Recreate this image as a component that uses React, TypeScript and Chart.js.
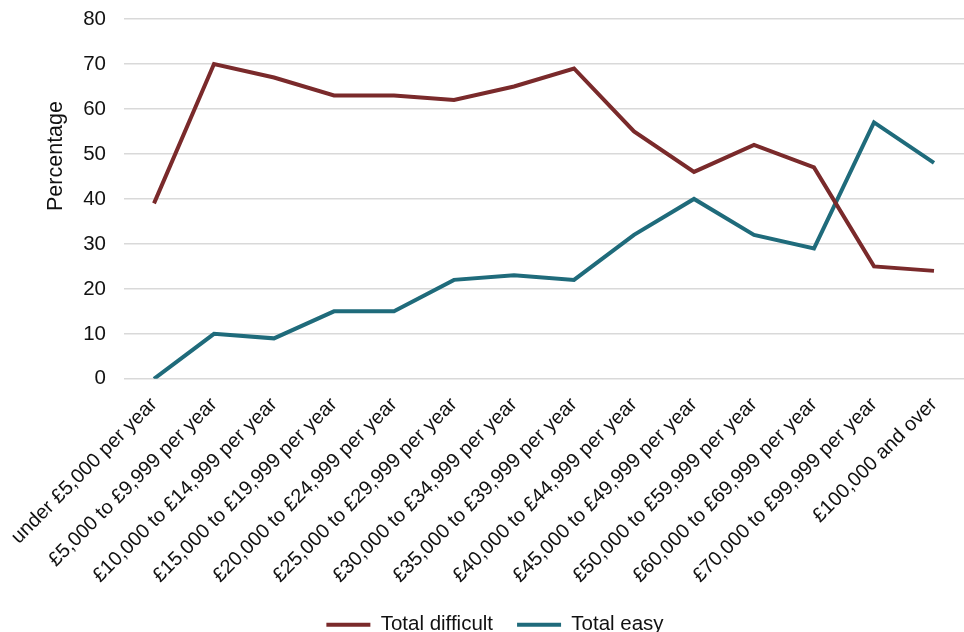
import React, { useEffect, useRef } from "react";
import { Chart, registerables } from "chart.js";

Chart.register(...registerables);

const incomeBands: string[] = [
  "under £5,000 per year",
  "£5,000 to £9,999 per year",
  "£10,000 to £14,999 per year",
  "£15,000 to £19,999 per year",
  "£20,000 to £24,999 per year",
  "£25,000 to £29,999 per year",
  "£30,000 to £34,999 per year",
  "£35,000 to £39,999 per year",
  "£40,000 to £44,999 per year",
  "£45,000 to £49,999 per year",
  "£50,000 to £59,999 per year",
  "£60,000 to £69,999 per year",
  "£70,000 to £99,999 per year",
  "£100,000 and over",
];

const totalDifficult: number[] = [39, 70, 67, 63, 63, 62, 65, 69, 55, 46, 52, 47, 25, 24];
const totalEasy: number[] = [0, 10, 9, 15, 15, 22, 23, 22, 32, 40, 32, 29, 57, 48];

const FONT = "'Liberation Sans', Arial, sans-serif";
const TEXT = "#111111";
const RED = "#7a2a2b";
const TEAL = "#1f6b7b";
const LEFT_PAD = 26;

// Rotated y-axis title drawn beside the value labels
const yTitlePlugin = {
  id: "yTitle",
  afterDraw(chart: Chart) {
    const ctx = chart.ctx;
    ctx.save();
    ctx.translate(56, 156);
    ctx.rotate(-Math.PI / 2);
    ctx.font = `21.5px ${FONT}`;
    ctx.fillStyle = TEXT;
    ctx.textAlign = "center";
    ctx.textBaseline = "middle";
    ctx.fillText("Percentage", 0, 0);
    ctx.restore();
  },
};

export default function App() {
  const canvasRef = useRef<HTMLCanvasElement | null>(null);

  useEffect(() => {
    if (!canvasRef.current) return;
    const chart = new Chart(canvasRef.current, {
      type: "line",
      data: {
        labels: incomeBands,
        datasets: [
          {
            label: "Total difficult",
            data: totalDifficult,
            borderColor: RED,
            backgroundColor: RED,
            borderWidth: 4,
            pointRadius: 0,
            tension: 0,
          },
          {
            label: "Total easy",
            data: totalEasy,
            borderColor: TEAL,
            backgroundColor: TEAL,
            borderWidth: 4,
            pointRadius: 0,
            tension: 0,
          },
        ],
      },
      options: {
        responsive: false,
        animation: false,
        layout: { padding: { top: 19, left: LEFT_PAD, right: 0, bottom: -13 } },
        scales: {
          x: {
            type: "category",
            offset: true,
            grid: { display: false, drawTicks: false },
            border: { display: false },
            afterFit(scale: any) {
              scale.height -= 11;
              scale.paddingLeft = 0;
              scale.paddingRight = 0;
            },
            ticks: {
              autoSkip: false,
              minRotation: 45,
              maxRotation: 45,
              padding: 14,
              color: TEXT,
              font: { family: FONT, size: 20 },
            },
          },
          y: {
            min: 0,
            max: 80,
            afterFit(scale: any) {
              scale.width = 124 - LEFT_PAD;
            },
            ticks: {
              stepSize: 10,
              padding: 0,
              color: TEXT,
              font: { family: FONT, size: 20.5 },
            },
            grid: {
              color: "#d9d9d9",
              lineWidth: 1.5,
              drawTicks: true,
              tickLength: 18,
              tickColor: "rgba(0,0,0,0)",
            },
            border: { display: false },
          },
        },
        plugins: {
          tooltip: { enabled: false },
          legend: {
            position: "bottom",
            labels: {
              color: TEXT,
              font: { family: FONT, size: 20.5 },
              boxWidth: 44,
              boxHeight: 4,
              padding: 24,
              generateLabels(c: Chart) {
                return Chart.defaults.plugins.legend.labels
                  .generateLabels(c)
                  .map((item: any) => ({ ...item, lineWidth: 0 }));
              },
            },
          },
        },
      },
      plugins: [yTitlePlugin],
    });
    return () => chart.destroy();
  }, []);

  return (
    <div style={{ position: "fixed", left: 0, top: 0, width: 964, height: 632, background: "#fff" }}>
      <canvas ref={canvasRef} width={964} height={632} style={{ display: "block" }} />
    </div>
  );
}
